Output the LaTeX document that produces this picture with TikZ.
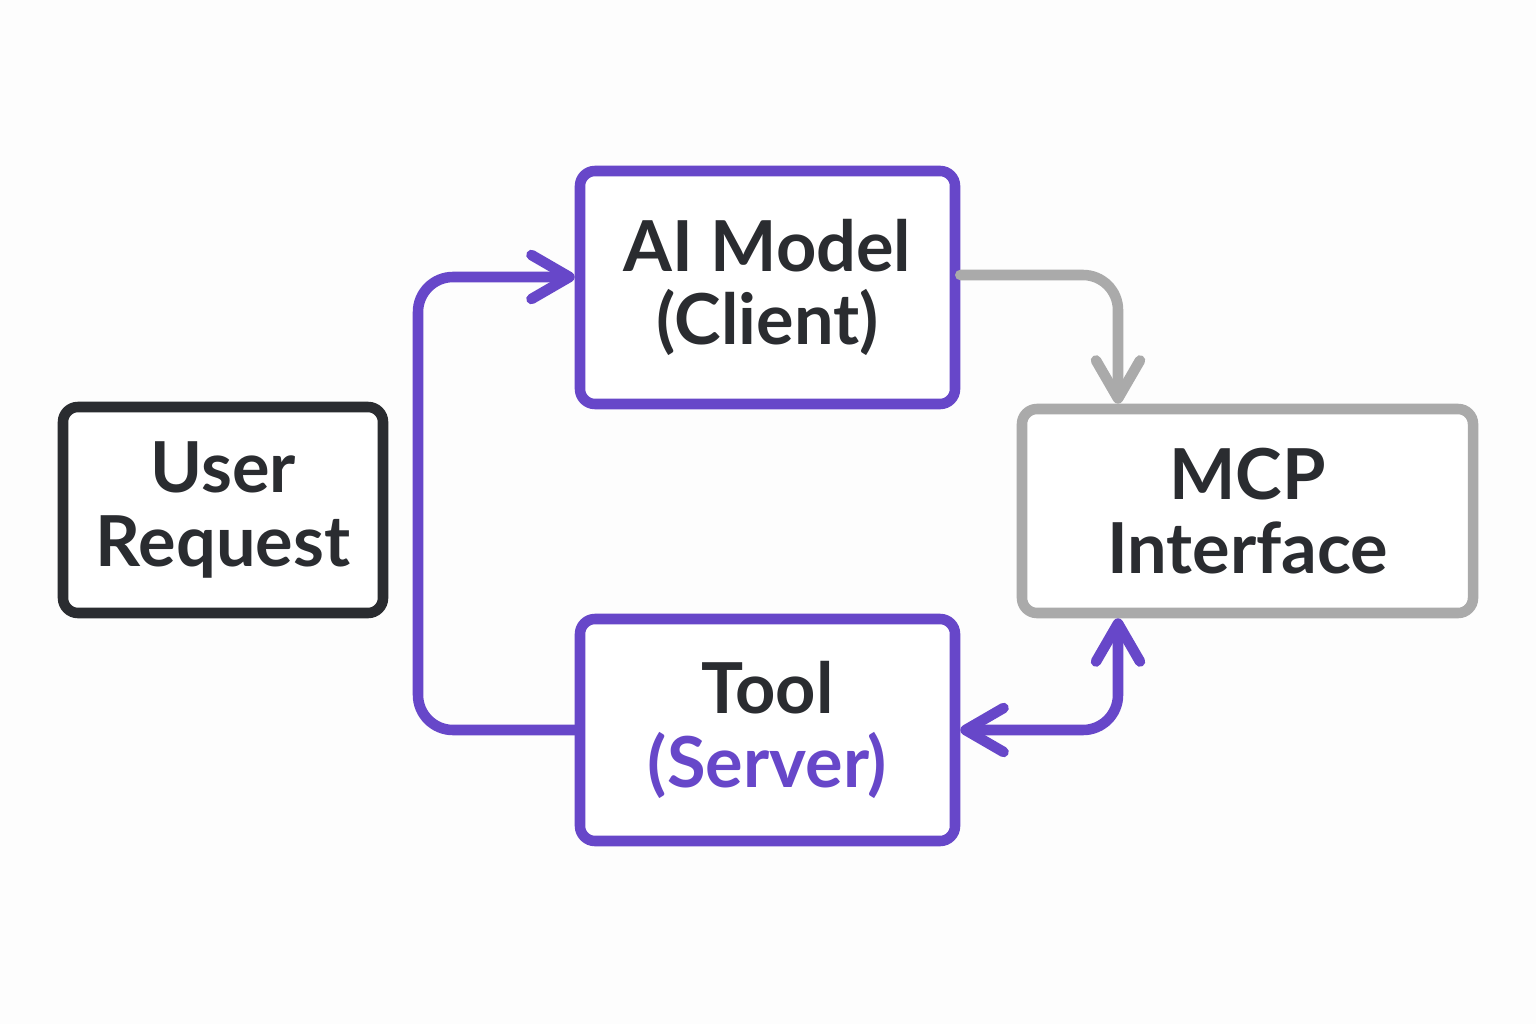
\documentclass[tikz,border=0pt]{standalone}
\usepackage{fontspec}
\setmainfont{Lato}
\usetikzlibrary{arrows.meta,positioning,calc}

\definecolor{ink}{HTML}{2A2C30}
\definecolor{violet}{HTML}{6747C9}
\definecolor{mist}{HTML}{AAAAAA}
\definecolor{paper}{HTML}{FDFDFD}

\tikzset{
  box/.style={draw, line width=3pt, rounded corners=1.5mm, fill=white,
    align=center, text=ink, inner sep=0pt,
    font=\fontsize{20}{21}\selectfont\bfseries},
  flow/.style={line width=3pt, rounded corners=3.5mm, line cap=round},
  chevron/.tip={Straight Barb[length=3.8mm, width=4.4mm, round]}
}

\begin{document}
\begin{tikzpicture}
  \useasboundingbox (0,0) rectangle (15.36,10.24);
  \fill[paper] (0,0) rectangle (15.36,10.24);

  % boxes
  \node[box, draw=ink, minimum width=3.20cm, minimum height=2.06cm]
    (user) at (2.23,5.14) {User\\Request};
  \node[box, draw=violet, minimum width=3.75cm, minimum height=2.33cm]
    (ai) at (7.675,7.365) {AI Model\\(Client)};
  \node[box, draw=violet, minimum width=3.75cm, minimum height=2.22cm]
    (tool) at (7.675,2.94) {Tool\\\textcolor{violet}{(Server)}};
  \node[box, draw=mist, minimum width=4.51cm, minimum height=2.04cm]
    (mcp) at (12.475,5.13) {MCP\\Interface};

  \coordinate (loopx) at (4.18,0);   % left return line
  \coordinate (drop) at (11.18,0);   % right vertical line

  % connectors
  \draw[flow, violet, -{chevron}] (tool.west) -- (tool.west -| loopx)
    |- ([yshift=1.05mm]ai.west);
  \draw[flow, mist, -{chevron}] ([yshift=1.25mm]ai.east)
    -| (mcp.north -| drop);
  \draw[flow, violet, {chevron}-{chevron}] (tool.east)
    -| (mcp.south -| drop);
\end{tikzpicture}
\end{document}
